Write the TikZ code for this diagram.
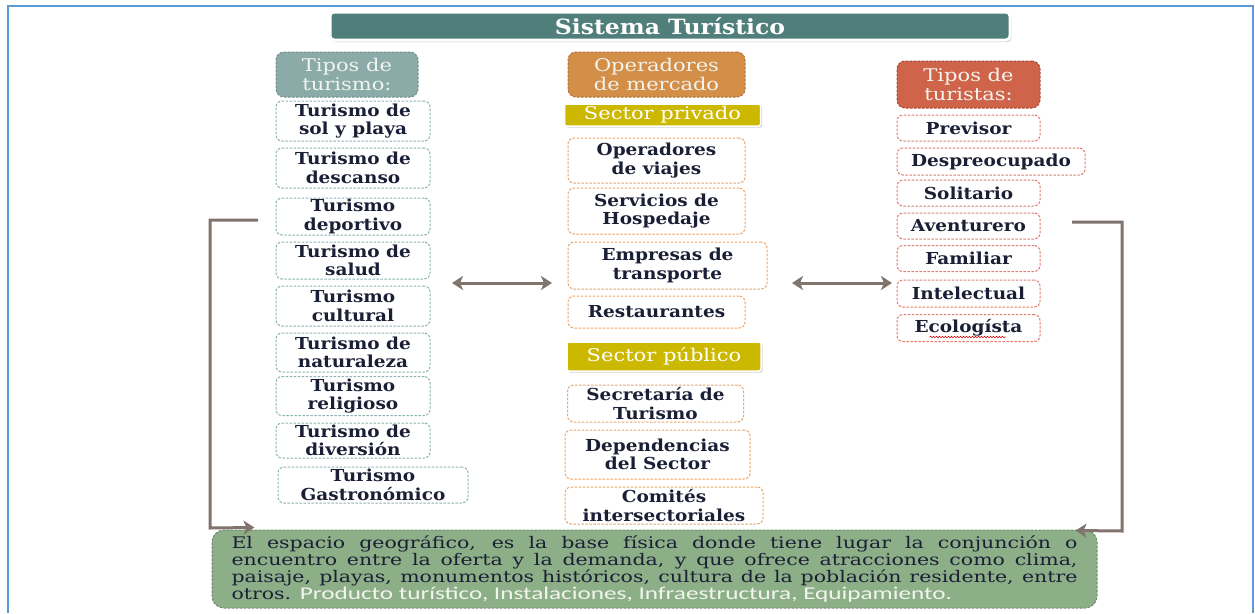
\documentclass[tikz,border=0pt]{standalone}
\usepackage{fontspec}
\setmainfont{DejaVu Serif}
\newfontfamily\bxf[FakeStretch=1.12]{DejaVu Serif}
\newfontfamily\hdf[FakeStretch=1.2]{DejaVu Serif}
\newfontfamily\ttlf[FakeStretch=1.12]{DejaVu Serif}
\newfontfamily\gtf[FakeStretch=1.28]{DejaVu Serif}
\newfontfamily\ctf[FakeStretch=1.4]{Carlito}
\usetikzlibrary{arrows.meta,shadows,decorations.pathmorphing,calc}
\definecolor{frameblue}{HTML}{5B9BD5}
\definecolor{titlefill}{HTML}{4F7E7B}
\definecolor{lheadfill}{HTML}{8AABA8}
\definecolor{lheadbd}{HTML}{6F8E8C}
\definecolor{lbd}{HTML}{8DB4B3}
\definecolor{mheadfill}{HTML}{D38E48}
\definecolor{mheadbd}{HTML}{B06F33}
\definecolor{mbd}{HTML}{E9A56A}
\definecolor{sectfill}{HTML}{CDB800}
\definecolor{rheadfill}{HTML}{CF644A}
\definecolor{rheadbd}{HTML}{A94A35}
\definecolor{rbd}{HTML}{E27C6C}
\definecolor{arrowc}{HTML}{80746C}
\definecolor{gfill}{HTML}{8DAF88}
\definecolor{gbd}{HTML}{6C8A68}
\definecolor{txtdark}{HTML}{1B1F36}
\definecolor{lighttxt}{HTML}{F2F4EE}
\tikzset{
  base/.style={rounded corners=6pt, draw, dash pattern=on 2.5pt off 1.5pt, line width=1pt,
    align=center, inner sep=0pt, fill=white, text=txtdark,
    font=\bxf\bfseries\fontsize{16.5}{18.5}\selectfont},
  lbox/.style={base, draw=lbd},
  mbox/.style={base, draw=mbd},
  rbox/.style={base, draw=rbd},
  lhead/.style={base, draw=lheadbd, fill=lheadfill, text=lighttxt, rounded corners=8pt,
    font=\hdf\fontsize{17.5}{18.5}\selectfont},
  mhead/.style={base, draw=mheadbd, fill=mheadfill, text=lighttxt, rounded corners=8pt,
    font=\hdf\fontsize{17.5}{18.5}\selectfont},
  rhead/.style={base, draw=rheadbd, fill=rheadfill, text=lighttxt, rounded corners=8pt,
    font=\hdf\fontsize{17.5}{18.5}\selectfont},
  sectbar/.style={rounded corners=2pt, fill=sectfill, draw=white, line width=1.5pt, text=white,
    inner sep=0pt, font=\hdf\fontsize{17.5}{18}\selectfont,
    drop shadow={shadow xshift=1.5pt, shadow yshift=-1.5pt, fill=black!35}},
  titlebox/.style={rounded corners=4pt, fill=titlefill, draw=white, line width=3pt, text=white,
    inner sep=0pt, font=\ttlf\bfseries\fontsize{21}{22}\selectfont,
    drop shadow={shadow xshift=1.5pt, shadow yshift=-2pt, fill=black!40}},
  gbox/.style={rounded corners=12pt, draw=gbd, fill=gfill, dash pattern=on 2.5pt off 1.5pt,
    line width=1pt, inner sep=0pt, text=txtdark, align=left,
    font=\gtf\fontsize{16}{16.8}\selectfont},
  dbl/.style={draw=arrowc, line width=3pt,
    {Stealth[length=11pt,width=14pt,inset=3pt]}-{Stealth[length=11pt,width=14pt,inset=3pt]}},
  brk/.style={draw=arrowc, line width=3pt, -{Stealth[length=11pt,width=14pt,inset=3pt]}}
}
\begin{document}
\begin{tikzpicture}[x=1pt,y=-1pt]
\useasboundingbox (0,0) rectangle (1255,613);
\fill[white] (0,0) rectangle (1255,613);
% frame
\draw[frameblue, line width=1.5pt] (8,613) -- (8,6) -- (1253,6) -- (1253,613);
% title
\node[titlebox, minimum width=680pt, minimum height=28pt] (title) at (670,26) {Sistema Turístico};
% left column
\node[lhead, minimum width=142pt, minimum height=45pt] (l0) at (347,74.5) {Tipos de\\turismo:};
\node[lbox, minimum width=154pt, minimum height=40pt] (l1) at (353,121) {Turismo de\\sol y playa};
\node[lbox, minimum width=154pt, minimum height=40pt] (l2) at (353,168) {Turismo de\\descanso};
\node[lbox, minimum width=154pt, minimum height=37pt] (l3) at (353,216.5) {Turismo\\deportivo};
\node[lbox, minimum width=154pt, minimum height=37pt] (l4) at (353,260.5) {Turismo de\\salud};
\node[lbox, minimum width=154pt, minimum height=40pt] (l5) at (353,306) {Turismo\\cultural};
\node[lbox, minimum width=154pt, minimum height=39pt] (l6) at (353,352.5) {Turismo de\\naturaleza};
\node[lbox, minimum width=154pt, minimum height=39pt] (l7) at (353,396) {Turismo\\religioso};
\node[lbox, minimum width=154pt, minimum height=35pt] (l8) at (353,440.5) {Turismo de\\diversión};
\node[lbox, minimum width=190pt, minimum height=36pt] (l9) at (373,485) {Turismo\\Gastronómico};
% middle column
\node[mhead, minimum width=177pt, minimum height=45pt] (m0) at (656.5,74.5) {Operadores\\de mercado};
\node[sectbar, minimum width=196pt, minimum height=22pt] (sp) at (662.5,115) {Sector privado};
\node[mbox, minimum width=177pt, minimum height=45pt] (m1) at (656.5,160.5) {Operadores\\de viajes};
\node[mbox, minimum width=177pt, minimum height=46pt] (m2) at (656.5,211) {Servicios de\\Hospedaje};
\node[mbox, minimum width=199pt, minimum height=47pt] (m3) at (667.5,265.5) {Empresas de\\transporte};
\node[mbox, minimum width=177pt, minimum height=32pt] (m4) at (656.5,312) {Restaurantes};
\node[sectbar, minimum width=194pt, minimum height=29pt] (spu) at (664,356.5) {Sector público};
\node[mbox, minimum width=176pt, minimum height=37pt] (m5) at (655.5,403.5) {Secretaría de\\Turismo};
\node[mbox, minimum width=185pt, minimum height=49pt] (m6) at (657.5,454.5) {Dependencias\\del Sector};
\node[mbox, minimum width=198pt, minimum height=37pt] (m7) at (664,505.5) {Comités\\intersectoriales};
% right column
\node[rhead, minimum width=143pt, minimum height=47pt] (r0) at (968.5,84.5) {Tipos de\\turistas:};
\node[rbox, minimum width=143pt, minimum height=26pt] (r1) at (968.5,128) {Previsor};
\node[rbox, minimum width=188pt, minimum height=27pt] (r2) at (991,161.5) {Despreocupado};
\node[rbox, minimum width=143pt, minimum height=26pt] (r3) at (968.5,193) {Solitario};
\node[rbox, minimum width=143pt, minimum height=26pt] (r4) at (968.5,226) {Aventurero};
\node[rbox, minimum width=143pt, minimum height=26pt] (r5) at (968.5,258.5) {Familiar};
\node[rbox, minimum width=143pt, minimum height=27pt] (r6) at (968.5,293.5) {Intelectual};
\node[rbox, minimum width=143pt, minimum height=27pt] (r7) at (968.5,328) {Ecologísta};
\draw[red!85!black, line width=0.6pt, decorate, decoration={snake, amplitude=0.7pt, segment length=3pt}]
  ($(r7.center)+(-39,9)$) -- ($(r7.center)+(37,9)$);
% green box
\node[gbox, minimum width=885pt, minimum height=78pt] (g) at (654.5,569) {%
  \makebox[846pt][s]{El espacio geográfico, es la base física donde tiene lugar la conjunción o}\\
  \makebox[846pt][s]{encuentro entre la oferta y la demanda, y que ofrece atracciones como clima,}\\
  \makebox[846pt][s]{paisaje, playas, monumentos históricos, cultura de la población residente, entre}\\
  otros. {\ctf\fontsize{18}{16.8}\selectfont\color{lighttxt}Producto turístico, Instalaciones, Infraestructura, Equipamiento.}};
% double arrows
\coordinate (a1) at (452,283);
\coordinate (a2) at (552,283);
\coordinate (a3) at (792,283);
\coordinate (a4) at (892,283);
\draw[dbl] (a1) -- (a2);
\draw[dbl] (a3) -- (a4);
% brackets
\coordinate (lb1) at (258,220);
\coordinate (rb1) at (1072,222);
\draw[brk] (lb1) -- (210,220) -- (210,528) -- ([xshift=43pt,yshift=2pt]g.north west);
\draw[brk] (rb1) -- (1122,222) -- (1122,531) -- ([xshift=-22pt,yshift=-1pt]g.north east);
\end{tikzpicture}
\end{document}
